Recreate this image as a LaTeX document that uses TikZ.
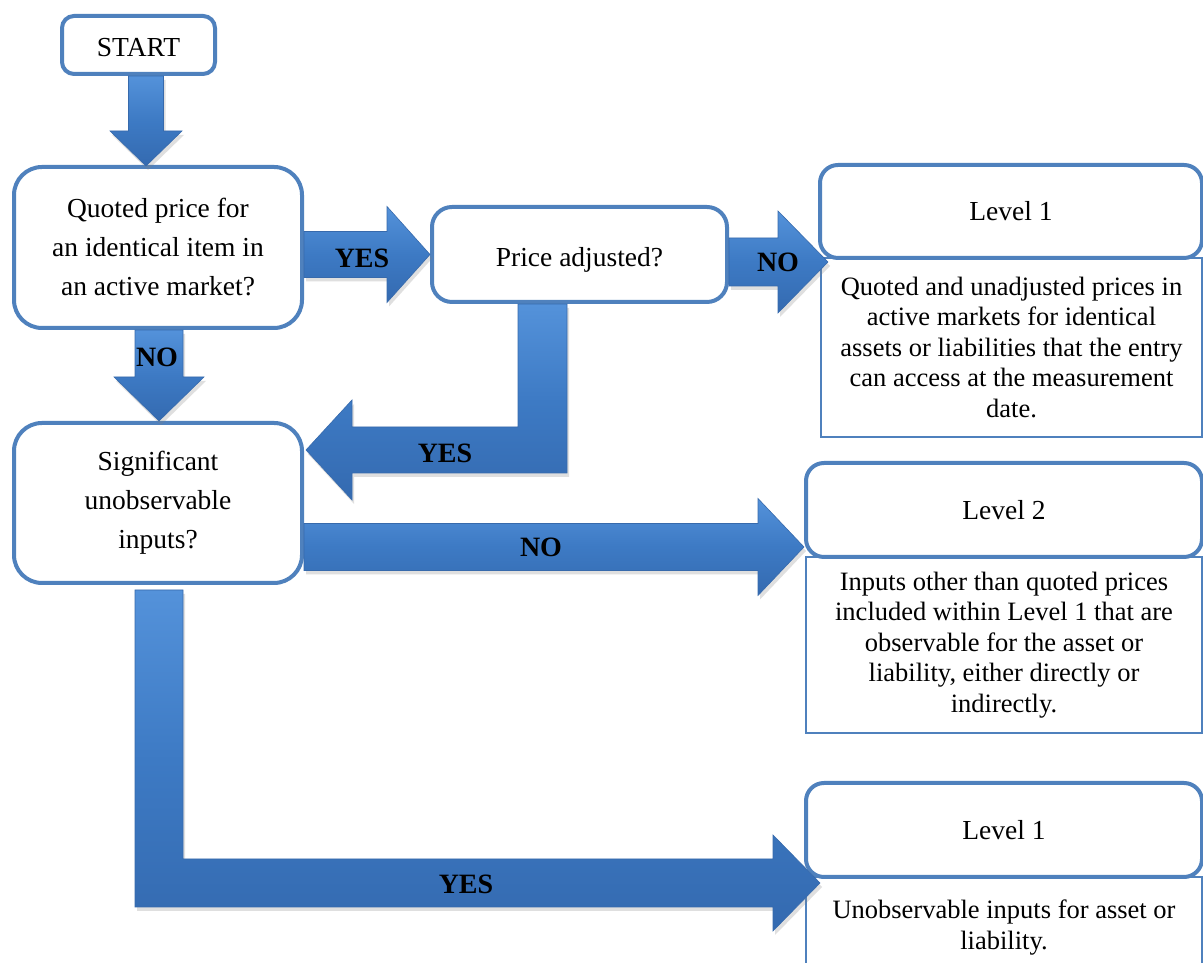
\documentclass[tikz,border=0pt]{standalone}
\usepackage{fontspec}
\setmainfont{Liberation Serif}
\usetikzlibrary{calc,shadows}

\definecolor{boxline}{RGB}{79,129,189}
\definecolor{arrowtop}{RGB}{84,146,218}
\definecolor{arrowmid}{RGB}{61,122,196}
\definecolor{arrowbot}{RGB}{52,106,176}
\definecolor{arrowedge}{RGB}{55,106,172}

\tikzset{
  decision/.style={draw=boxline, line width=4pt, rounded corners=28pt, fill=white,
    inner sep=0pt, align=center, font=\fontsize{27.5}{39}\selectfont},
  leveltitle/.style={draw=boxline, line width=4pt, rounded corners=18pt, fill=white,
    inner sep=0pt, font=\fontsize{27.5}{33}\selectfont},
  leveldesc/.style={draw=boxline, line width=2pt, fill=white, inner sep=0pt,
    align=center, font=\fontsize{26.5}{30.5}\selectfont},
  blockarrow/.style={top color=arrowtop, bottom color=arrowbot, middle color=arrowmid,
    draw=arrowedge, line width=0.6pt, line join=miter,
    drop shadow={shadow xshift=2pt, shadow yshift=-4pt, opacity=0.25}},
  armlabel/.style={font=\fontsize{28}{30}\selectfont\bfseries, inner sep=0pt},
}

% block arrow pointing down: #1 tail anchor, #2 tip, #3 shaft half width,
% #4 head half width, #5 head length
\newcommand{\downblock}[5]{%
  \path[blockarrow] let \p1=(#1), \p2=(#2) in
    (\x2-#3pt,\y1) -- (\x2+#3pt,\y1) -- (\x2+#3pt,\y2+#5pt) -- (\x2+#4pt,\y2+#5pt)
    -- (\x2,\y2) -- (\x2-#4pt,\y2+#5pt) -- (\x2-#3pt,\y2+#5pt) -- cycle;}
% block arrow pointing right
\newcommand{\rightblock}[5]{%
  \path[blockarrow] let \p1=(#1), \p2=(#2) in
    (\x1,\y2+#3pt) -- (\x2-#5pt,\y2+#3pt) -- (\x2-#5pt,\y2+#4pt) -- (\x2,\y2)
    -- (\x2-#5pt,\y2-#4pt) -- (\x2-#5pt,\y2-#3pt) -- (\x1,\y2-#3pt) -- cycle;}

\begin{document}
\begin{tikzpicture}[x=1pt,y=1pt]
\clip (0,0) rectangle (1203,963);
\fill[white] (0,0) rectangle (1203,963);

% decision boxes
\node[decision, rounded corners=12pt, minimum width=153pt, minimum height=58pt,
  text height=24pt, text depth=0pt]
  (start) at (138.5,918) {START};
\node[decision, minimum width=288pt, minimum height=161pt]
  (q1) at (158,715.5) {Quoted price for\\an identical item in\\an active market?};
\node[decision, rounded corners=20pt, minimum width=295pt, minimum height=95pt,
  text height=24pt, text depth=0pt]
  (price) at (579.5,708.5) {Price adjusted?};
\node[decision, minimum width=288pt, minimum height=160pt]
  (q2) at (158,460) {Significant\\unobservable\\inputs?};

% level boxes
\node[leveldesc, minimum width=381pt, minimum height=179pt] (l1desc) at (1011.5,615.5)
  {Quoted and unadjusted prices in\\active markets for identical\\assets or liabilities that the entry\\can access at the measurement\\date.};
\node[leveltitle, minimum width=382pt, minimum height=93pt] (l1top) at (1011,751.5) {Level 1};

\node[leveldesc, minimum width=396pt, minimum height=176pt] (l2desc) at (1004,318)
  {Inputs other than quoted prices\\included within Level 1 that are\\observable for the asset or\\liability, either directly or\\indirectly.};
\node[leveltitle, minimum width=396pt, minimum height=94pt] (l2top) at (1004,453) {Level 2};

\node[leveldesc, minimum width=396pt, minimum height=101pt] (l3desc) at (1004,35.5)
  {Unobservable inputs for asset or\\liability.};
\node[leveltitle, minimum width=396pt, minimum height=94pt] (l3top) at (1004,133) {Level 1};

% straight connectors
\downblock{start.south}{$(q1.north)+(-12,-1)$}{17.5}{36}{35}
\downblock{q1.south}{$(q2.north)+(1,0)$}{24}{45}{44}
\rightblock{q1.east}{price.west}{23}{48}{43}
\rightblock{price.east}{$(l1top.south west)+(10,-2)$}{24}{51}{50}
\rightblock{q2.east}{$(l2top.south west)+(0,12)$}{23.5}{48.5}{46}

% elbow connector: Price adjusted? -> Significant unobservable inputs?
\path[blockarrow] let \p1=($(price.south)+(-37,0)$), \p2=($(q2.east)+(2,53)$) in
  (\x1-24.5pt,\y1) -- (\x1+24.5pt,\y1) -- (\x1+24.5pt,\y2-23pt) -- (\x2+46pt,\y2-23pt)
  -- (\x2+46pt,\y2-50pt) -- (\x2,\y2) -- (\x2+46pt,\y2+50pt) -- (\x2+46pt,\y2+23pt)
  -- (\x1-24.5pt,\y2+23pt) -- cycle;

% elbow connector: Significant unobservable inputs? -> Level 1 (bottom)
\path[blockarrow] let \p1=($(q2.south)+(1,-5)$), \p2=($(l3top.south west)+(16,-4)$) in
  (\x1-24pt,\y1) -- (\x1+24pt,\y1) -- (\x1+24pt,\y2+24pt) -- (\x2-47pt,\y2+24pt)
  -- (\x2-47pt,\y2+48pt) -- (\x2,\y2) -- (\x2-47pt,\y2-48pt) -- (\x2-47pt,\y2-24pt)
  -- (\x1-24pt,\y2-24pt) -- cycle;

% connector labels
\node[armlabel] (yesone) at (362,705) {YES};
\node[armlabel] (noone) at (778,701) {NO};
\node[armlabel] (notwo) at (157,606) {NO};
\node[armlabel] (yestwo) at (445,510) {YES};
\node[armlabel] (nothree) at (541,416) {NO};
\node[armlabel] (yesthree) at (466,79) {YES};
\end{tikzpicture}
\end{document}
